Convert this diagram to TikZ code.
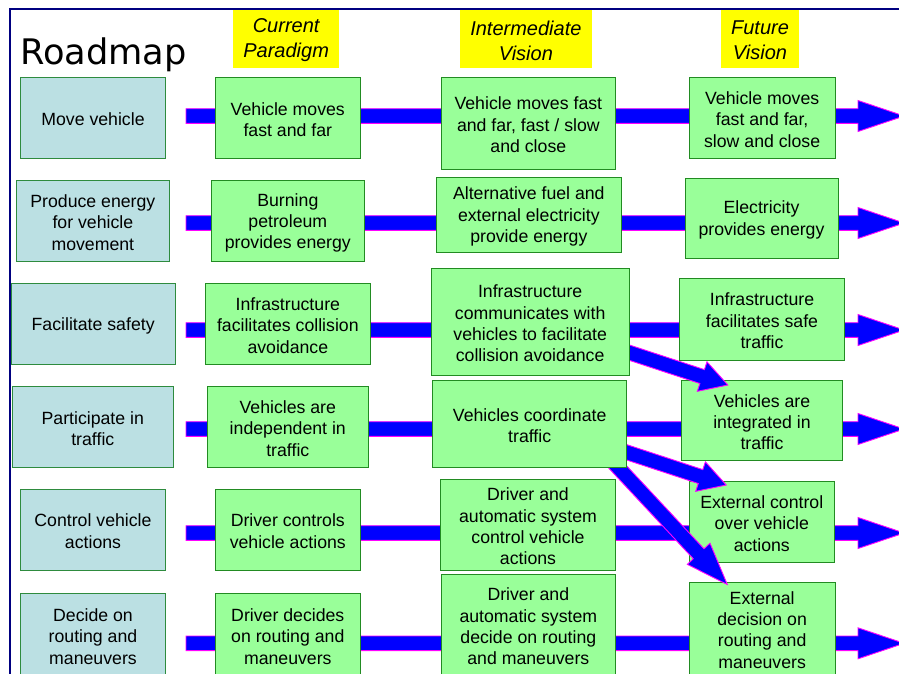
\documentclass[tikz,border=0pt]{standalone}
\usepackage{fontspec}
\setmainfont{Liberation Sans}
\newfontfamily\titlefont{DejaVu Sans}
\usetikzlibrary{calc}

\definecolor{framenavy}{RGB}{0,0,128}
\definecolor{funcfill}{RGB}{187,224,227}
\definecolor{funcedge}{RGB}{46,139,62}
\definecolor{statefill}{RGB}{153,255,153}
\definecolor{stateedge}{RGB}{34,139,34}
\definecolor{headyellow}{RGB}{255,255,0}
\definecolor{shaftblue}{RGB}{0,0,255}
\definecolor{shaftrim}{RGB}{255,0,255}

\pgfdeclarelayer{hbar}
\pgfdeclarelayer{diag}
\pgfdeclarelayer{front}
\pgfsetlayers{hbar,main,diag,front}

% block arrow from #1 to the tip #2, head length #3
\newcommand\fatarrow[3]{%
  \coordinate (fa-neck) at ($(#2)!#3!(#1)$);
  \filldraw[bandarrow] ($(#1)!7.3pt!90:(#2)$) -- ($(fa-neck)!7.3pt!90:(#2)$)
    -- ($(fa-neck)!15.5pt!90:(#2)$) -- (#2) -- ($(fa-neck)!15.5pt!-90:(#2)$)
    -- ($(fa-neck)!7.3pt!-90:(#2)$) -- ($(#1)!7.3pt!-90:(#2)$) -- cycle;}

% box given by its corners: style, x1, y1, x2, y2, name, text
% the text sits in its own node, a little below the box centre
\newcommand\rbox[7]{%
  \node[#1, minimum width={#4-#2}, minimum height={#5-#3}] (#6)
    at ({(#2+#4)/2},{(#3+#5)/2}) {};
  \node[#1 text] (#6-t) at ([yshift=-1.6pt]#6.center) {#7};}

\tikzset{
  bandarrow/.style={fill=shaftblue, draw=shaftrim, line width=0.9pt, line join=miter},
  boxbase/.style={rectangle, inner sep=0pt, line width=1pt},
  boxtext/.style={inner sep=0pt, align=center, text=black,
    font=\fontsize{17.7}{21.3}\selectfont},
  func/.style={boxbase, fill=funcfill, draw=funcedge},
  func text/.style={boxtext},
  state/.style={boxbase, fill=statefill, draw=stateedge},
  state text/.style={boxtext},
  hdr/.style={rectangle, inner sep=0pt, fill=headyellow},
  hdr text/.style={inner sep=0pt, align=center, text=black,
    font=\itshape\fontsize{20}{24.8}\selectfont},
  titletext/.style={inner sep=0pt, font=\titlefont\fontsize{35.2}{40}\selectfont}
}

\begin{document}
\begin{tikzpicture}[x=1pt, y=-1pt]
\useasboundingbox (0,0) rectangle (899,673);
\clip (0,0) rectangle (899,673);

% frame
\draw[framenavy, line width=2pt] (10.3,9.3) rectangle (1000,800);

% title and column headings
\node[titletext, anchor=base west] (title) at (20,64.3) {Roadmap};
\rbox{hdr}{233.3}{10}{339}{67.7}{hcur}{Current\\Paradigm}
\rbox{hdr}{460}{10}{591.7}{67.7}{hint}{Intermediate\\Vision}
\rbox{hdr}{721}{10}{799}{67.7}{hfut}{Future\\Vision}

% horizontal roadmap arrows
\begin{pgfonlayer}{hbar}
\clip (0,0) rectangle (899,673);
\coordinate (h1s) at (186,116);   \coordinate (h1t) at (904,116);
\coordinate (h2s) at (186,223);   \coordinate (h2t) at (904,223);
\coordinate (h3s) at (186,330);   \coordinate (h3t) at (904,330);
\coordinate (h4s) at (186,429);   \coordinate (h4t) at (904,429);
\coordinate (h5s) at (186,533);   \coordinate (h5t) at (904,533);
\coordinate (h6s) at (186,643.3); \coordinate (h6t) at (904,643.3);
\fatarrow{h1s}{h1t}{46pt}
\fatarrow{h2s}{h2t}{46pt}
\fatarrow{h3s}{h3t}{46pt}
\fatarrow{h4s}{h4t}{46pt}
\fatarrow{h5s}{h5t}{46pt}
\fatarrow{h6s}{h6t}{46pt}
\end{pgfonlayer}

% functions
\rbox{func}{20.3}{77.3}{165.7}{158.3}{L1}{Move vehicle}
\rbox{func}{16.7}{180.7}{169}{261}{L2}{Produce energy\\for vehicle\\movement}
\rbox{func}{11}{283.7}{175.3}{364}{L3}{Facilitate safety}
\rbox{func}{12.3}{386.3}{173.3}{467.3}{L4}{Participate in\\traffic}
\rbox{func}{20.3}{489.3}{165.7}{570}{L5}{Control vehicle\\actions}
\rbox{func}{20.3}{593.3}{165.7}{676.5}{L6}{Decide on\\routing and\\maneuvers}

% current paradigm
\rbox{state}{215.3}{77.3}{360.3}{158.3}{C1}{Vehicle moves\\fast and far}
\rbox{state}{211.7}{180.7}{364}{261.7}{C2}{Burning\\petroleum\\provides energy}
\rbox{state}{205.7}{283.7}{370}{364}{C3}{Infrastructure\\facilitates collision\\avoidance}
\rbox{state}{207.3}{386.3}{368.3}{467.3}{C4}{Vehicles are\\independent in\\traffic}
\rbox{state}{215.3}{489.3}{360.3}{570}{C5}{Driver controls\\vehicle actions}
\rbox{state}{215.3}{593.3}{360.3}{676.5}{C6}{Driver decides\\on routing and\\maneuvers}

% future vision
\rbox{state}{689.3}{77.3}{835}{158.3}{F1}{Vehicle moves\\fast and far,\\slow and close}
\rbox{state}{685}{178}{838}{258.7}{F2}{Electricity\\provides energy}
\rbox{state}{679.7}{278.7}{844.3}{360}{F3}{Infrastructure\\facilitates safe\\traffic}
\rbox{state}{681.3}{380.3}{842.7}{460.7}{F4}{Vehicles are\\integrated in\\traffic}
\rbox{state}{689.3}{481.3}{834.3}{562.3}{F5}{External control\\over vehicle\\actions}
\rbox{state}{689.3}{582.7}{835}{674}{F6}{External\\decision on\\routing and\\maneuvers}

% intermediate vision, above the branching arrows
\begin{pgfonlayer}{front}
\clip (0,0) rectangle (899,673);
\rbox{state}{441}{77.3}{615.7}{169.3}{I1}{Vehicle moves fast\\and far, fast / slow\\and close}
\rbox{state}{436.7}{177}{621}{252.7}{I2}{Alternative fuel and\\external electricity\\provide energy}
\rbox{state}{431}{268.7}{629.3}{375}{I3}{Infrastructure\\communicates with\\vehicles to facilitate\\collision avoidance}
\rbox{state}{432.7}{380.7}{626.7}{467.3}{I4}{Vehicles coordinate\\traffic}
\rbox{state}{440.7}{479.3}{615.3}{570.7}{I5}{Driver and\\automatic system\\control vehicle\\actions}
\rbox{state}{441}{574.3}{615.7}{675.7}{I6}{Driver and\\automatic system\\decide on routing\\and maneuvers}
\end{pgfonlayer}

% branching arrows
\begin{pgfonlayer}{diag}
\clip (0,0) rectangle (899,673);
\coordinate (d1s) at ($(I3.south east)+(-24.3,-30.7)$);
\coordinate (d1t) at ($(F4.north west)+(47,5.2)$);
\coordinate (d2s) at ($(I4.south east)+(-23.3,-23)$);
\coordinate (d2t) at ($(F5.north west)+(37.4,4.2)$);
\coordinate (d3s) at ($(I4.south east)+(-28.5,-21.2)$);
\coordinate (d3t) at ($(F6.north west)+(38.5,2.3)$);
\fatarrow{d1s}{d1t}{27pt}
\fatarrow{d2s}{d2t}{27pt}
\fatarrow{d3s}{d3t}{42pt}
\end{pgfonlayer}
\end{tikzpicture}
\end{document}
